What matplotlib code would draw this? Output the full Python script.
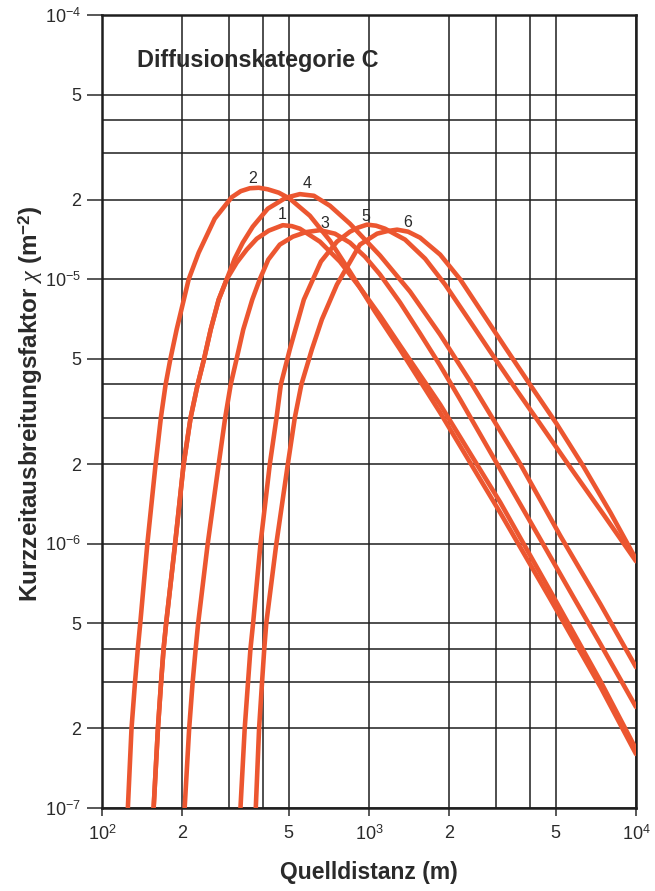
import matplotlib.pyplot as plt
from matplotlib.ticker import FixedLocator, FixedFormatter

plt.rcParams['font.family'] = ['Liberation Sans', 'DejaVu Sans']
plt.rcParams['mathtext.fontset'] = 'custom'
plt.rcParams['mathtext.rm'] = 'Liberation Sans'
plt.rcParams['mathtext.it'] = 'Liberation Serif:italic'
plt.rcParams['mathtext.bf'] = 'Liberation Sans:bold'

# source distance (m) and short-time dispersion factor (m^-2)
x1 = [154.7, 156.1, 162, 166.5, 170.1, 173.9, 187.9, 202.2, 214.8, 228.2, 240.4, 255.4, 273.6, 293.2,
      319.6, 348.4, 379.9, 421.4, 475.6, 514.3, 551, 655, 778, 925, 1100, 1307, 1847, 3101, 4777,
      7359, 10000]
y1 = [8e-8, 1e-7, 2e-7, 3e-7, 4e-7, 5e-7, 1e-6, 2e-6, 3e-6, 4e-6, 4.93e-6, 6.46e-6, 8.38e-6, 1e-5,
      1.156e-5, 1.295e-5, 1.424e-5, 1.528e-5, 1.602e-5, 1.589e-5, 1.554e-5, 1.388e-5, 1.167e-5,
      9.3e-6, 7.29e-6, 5.62e-6, 3.36e-6, 1.433e-6, 6.61e-7, 3.02e-7, 1.67e-7]

x2 = [123.6, 125, 129, 133, 136.2, 139.1, 147.9, 158.8, 166.2, 173.1, 179.9, 190.4, 211.2, 230.1,
      264.3, 306.1, 331, 357.7, 386.7, 417.8, 459.5, 505.2, 600.5, 714, 848.5, 1053, 1307, 1847,
      3100, 4780, 7360, 10000]
y2 = [8e-8, 1e-7, 2e-7, 3e-7, 4e-7, 5e-7, 1e-6, 2e-6, 3e-6, 4e-6, 4.93e-6, 6.46e-6, 1e-5, 1.26e-5,
      1.695e-5, 2.044e-5, 2.155e-5, 2.21e-5, 2.22e-5, 2.19e-5, 2.126e-5, 2.018e-5, 1.74e-5, 1.40e-5,
      1.069e-5, 7.55e-6, 5.43e-6, 3.13e-6, 1.31e-6, 6.16e-7, 2.87e-7, 1.6e-7]

x3 = [202.2, 204, 212.1, 218.6, 224.3, 229.2, 248.9, 273.6, 289.4, 303.5, 318.3, 338.2, 365.5, 389.9,
      419.6, 463.4, 518.6, 580.2, 654.8, 745.5, 848.5, 966, 1100, 1307, 1554, 1847, 2195, 2609,
      3101, 4383, 5832, 7359, 10000]
y3 = [8e-8, 1e-7, 2e-7, 3e-7, 4e-7, 5e-7, 1e-6, 2e-6, 3e-6, 4e-6, 4.93e-6, 6.46e-6, 8.38e-6, 1e-5,
      1.187e-5, 1.353e-5, 1.45e-5, 1.508e-5, 1.534e-5, 1.488e-5, 1.376e-5, 1.218e-5, 1.042e-5,
      8.17e-6, 6.23e-6, 4.72e-6, 3.51e-6, 2.59e-6, 1.91e-6, 1.039e-6, 6.27e-7, 4.17e-7, 2.41e-7]

x4 = [154.7, 156.1, 162, 166.5, 170.1, 173.9, 187.9, 202.2, 214.8, 228.2, 240.4, 255.4, 273.6, 293.2,
      314.1, 336.7, 367.1, 417.8, 488.2, 551, 621.8, 714, 848.5, 1100, 1425, 1847, 2393, 2845, 3686,
      5208, 7359, 10000]
y4 = [8e-8, 1e-7, 2e-7, 3e-7, 4e-7, 5e-7, 1e-6, 2e-6, 3e-6, 4e-6, 4.93e-6, 6.46e-6, 8.38e-6, 1e-5,
      1.197e-5, 1.376e-5, 1.582e-5, 1.85e-5, 2.035e-5, 2.10e-5, 2.07e-5, 1.898e-5, 1.623e-5, 1.23e-5,
      8.98e-6, 6.18e-6, 4.11e-6, 3.08e-6, 2.0e-6, 1.07e-6, 5.9e-7, 3.41e-7]

x5 = [328.1, 330.1, 342.4, 352.4, 359.8, 368.1, 392.4, 425.2, 450.6, 467.6, 505.2, 570.3, 660.6,
      758.5, 848.5, 909, 983, 1063, 1148, 1365, 1622, 1928, 2393, 2845, 3470, 4383, 5679, 7551, 10000]
y5 = [8e-8, 1e-7, 2e-7, 3e-7, 4e-7, 5e-7, 1e-6, 2e-6, 3e-6, 4e-6, 5.43e-6, 8.38e-6, 1.167e-5,
      1.388e-5, 1.514e-5, 1.568e-5, 1.61e-5, 1.595e-5, 1.554e-5, 1.413e-5, 1.197e-5, 9.55e-6,
      6.92e-6, 5.33e-6, 3.97e-6, 2.83e-6, 1.94e-6, 1.29e-6, 8.58e-7]

x6 = [373.4, 376.7, 387.6, 397.7, 405.3, 412.4, 449.8, 496.7, 527.6, 558.2, 611.1, 666.2, 758.5,
      925.1, 1072, 1168, 1274, 1401, 1554, 1847, 2195, 2609, 3238, 4055, 5031, 6353, 8022, 10000]
y6 = [8e-8, 1e-7, 2e-7, 3e-7, 4e-7, 5e-7, 1e-6, 2e-6, 3e-6, 4e-6, 5.43e-6, 7.05e-6, 9.55e-6,
      1.353e-5, 1.488e-5, 1.521e-5, 1.541e-5, 1.514e-5, 1.437e-5, 1.24e-5, 1e-5, 7.68e-6, 5.52e-6,
      3.93e-6, 2.85e-6, 1.96e-6, 1.31e-6, 8.73e-7]

curve_names = ['1', '2', '3', '4', '5', '6']
label_x = [472, 367, 684, 586, 974, 1401]
label_y = [1.755e-5, 2.40e-5, 1.623e-5, 2.30e-5, 1.725e-5, 1.637e-5]

xticks = [100, 200, 300, 400, 500, 1000, 2000, 3000, 4000, 5000, 10000]
xticklabels = ['$10^2$', '2', '', '', '5', '$10^3$', '2', '', '', '5', '$10^4$']
yticks = [1e-7, 2e-7, 3e-7, 4e-7, 5e-7, 1e-6, 2e-6, 3e-6, 4e-6, 5e-6,
          1e-5, 2e-5, 3e-5, 4e-5, 5e-5, 1e-4]
yticklabels = ['$10^{-7}$', '2', '', '', '5', '$10^{-6}$', '2', '', '', '5',
               '$10^{-5}$', '2', '', '', '5', '$10^{-4}$']

red = '#ec5630'
ink = '#2a2a2a'

fig = plt.figure(figsize=(6.55, 8.91), dpi=100)
ax = fig.add_axes([0.1557, 0.0932, 0.8153, 0.8900])
ax.set_xscale('log')
ax.set_yscale('log')

for xs, ys in [(x1, y1), (x2, y2), (x3, y3), (x4, y4), (x5, y5), (x6, y6)]:
    ax.plot(xs, ys, color=red, lw=3.3, solid_joinstyle='round', solid_capstyle='round', zorder=3)

for name, lx, ly in zip(curve_names, label_x, label_y):
    ax.text(lx, ly, name, fontsize=11.5, color=ink, ha='center', va='center', zorder=4)

ax.set_xlim(100, 10000)
ax.set_ylim(1e-7, 1e-4)

ax.xaxis.set_major_locator(FixedLocator(xticks))
ax.xaxis.set_major_formatter(FixedFormatter(xticklabels))
ax.xaxis.set_minor_locator(FixedLocator([]))
ax.yaxis.set_major_locator(FixedLocator(yticks))
ax.yaxis.set_major_formatter(FixedFormatter(yticklabels))
ax.yaxis.set_minor_locator(FixedLocator([]))

ax.grid(True, which='major', color='#1e1e1e', lw=1.1)
ax.set_axisbelow(True)
ax.tick_params(axis='x', length=6, width=1.1, pad=6, labelsize=13, colors=ink)
ax.tick_params(axis='y', length=11, width=1.1, pad=4, labelsize=13, colors=ink)

# no tick marks where the grid has no label (3 and 4 of each decade)
for tick, lab in zip(ax.xaxis.get_major_ticks(), xticklabels):
    if lab == '':
        tick.tick1line.set_visible(False)
for tick, lab in zip(ax.yaxis.get_major_ticks(), yticklabels):
    if lab == '':
        tick.tick1line.set_visible(False)

for s in ax.spines.values():
    s.set_linewidth(1.8)
    s.set_color('#1e1e1e')

ax.text(0.066, 0.943, 'Diffusionskategorie C', transform=ax.transAxes, fontsize=16.8,
        fontweight='bold', color=ink, ha='left', va='center')

ax.set_xlabel('Quelldistanz (m)', fontsize=16.5, fontweight='bold', color=ink, labelpad=12)
fig.text(0.046, 0.547, r'Kurzzeitausbreitungsfaktor $\chi$ (m$^{\mathbf{-2}}$)', rotation=90,
         fontsize=17.5, fontweight='bold', color=ink, ha='center', va='center')

plt.savefig('out.png', dpi=100)
